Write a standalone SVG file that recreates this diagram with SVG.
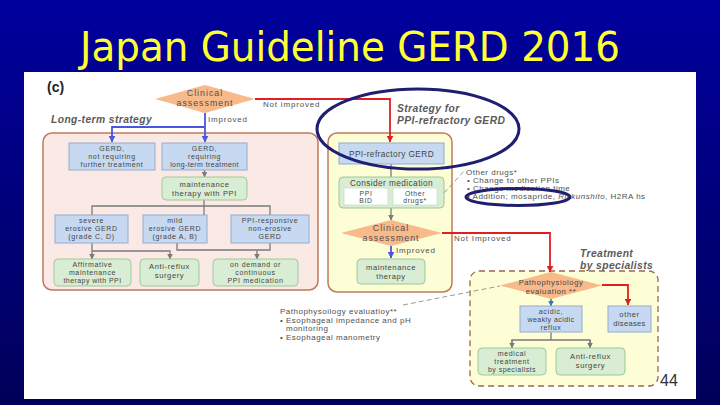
<svg xmlns="http://www.w3.org/2000/svg" width="720" height="405" viewBox="0 0 720 405">
<style>
.t{font-family:"Liberation Sans",Arial,sans-serif;font-size:7px;fill:#454545;text-anchor:middle;letter-spacing:0.65px}
.t2{font-family:"Liberation Sans",Arial,sans-serif;font-size:7.6px;fill:#454545;text-anchor:middle;letter-spacing:0.6px}
.tl{font-family:"Liberation Sans",Arial,sans-serif;font-size:8px;fill:#505050;letter-spacing:0.5px}
.lab{font-family:"Liberation Sans",Arial,sans-serif;font-size:8px;fill:#505050;letter-spacing:0.8px}
.it{font-family:"Liberation Sans",Arial,sans-serif;font-size:10.3px;font-style:italic;font-weight:bold;fill:#5a5a5a;letter-spacing:0.4px}
.dia{fill:#f8b98b}
.dt{font-family:"Liberation Sans",Arial,sans-serif;font-size:8.8px;fill:#505050;text-anchor:middle;letter-spacing:1px}
.blue{fill:#c6d9f1;stroke:#93acd0;stroke-width:1}
.green{fill:#d8edd3;stroke:#9dca96;stroke-width:1}
.wbox{fill:#ffffff;stroke:#c8e2c2;stroke-width:0.8}
.red{fill:none;stroke:#e02020;stroke-width:1.8}
.bl{fill:none;stroke:#4a55e0;stroke-width:1.8}
.gr{fill:none;stroke:#7a7a7a;stroke-width:1.3}
.dash{fill:none;stroke:#999;stroke-width:1;stroke-dasharray:5,3}
.ell{fill:none;stroke:#1f1f72;stroke-width:3}
</style>
<defs>
<linearGradient id="bg" x1="0" y1="0" x2="0" y2="1">
<stop offset="0" stop-color="#00009e"/>
<stop offset="1" stop-color="#00005a"/>
</linearGradient>
<marker id="mr" viewBox="0 0 6 6" refX="5.5" refY="3" markerWidth="7" markerHeight="7" orient="auto" markerUnits="userSpaceOnUse"><path d="M0,0 L6,3 L0,6 z" fill="#e02020"/></marker>
<marker id="mb" viewBox="0 0 6 6" refX="5.5" refY="3" markerWidth="7" markerHeight="7" orient="auto" markerUnits="userSpaceOnUse"><path d="M0,0 L6,3 L0,6 z" fill="#4a55e0"/></marker>
<marker id="mg" viewBox="0 0 6 6" refX="5.5" refY="3" markerWidth="6" markerHeight="6" orient="auto" markerUnits="userSpaceOnUse"><path d="M0,0 L6,3 L0,6 z" fill="#7a7a7a"/></marker>
<marker id="mb2" viewBox="0 0 6 6" refX="5.5" refY="3" markerWidth="6" markerHeight="6" orient="auto" markerUnits="userSpaceOnUse"><path d="M0,0 L6,3 L0,6 z" fill="#3377bb"/></marker>
</defs>

<rect x="0" y="0" width="720" height="405" fill="url(#bg)"/>
<text x="350" y="61" font-family="DejaVu Sans, sans-serif" font-size="40" fill="#ffff33" text-anchor="middle" textLength="540" lengthAdjust="spacingAndGlyphs">Japan Guideline GERD 2016</text>
<rect x="24" y="72" width="672" height="327" fill="#ffffff"/>

<text x="47" y="92" font-family="Liberation Sans, Arial, sans-serif" font-size="14" font-weight="bold" fill="#222">(c)</text>

<g id="panel-longterm">
<rect x="43" y="133" width="275" height="157" rx="9" fill="#fbe9e6" stroke="#bf7a5a" stroke-width="1.5"/>
<text class="it" x="51" y="123">Long-term strategy</text>
</g>
<g id="panel-refractory">
<rect x="328" y="133" width="124" height="159" rx="9" fill="#fdfdd6" stroke="#bf7a5a" stroke-width="1.5"/>
<text class="it" x="397" y="112">Strategy for</text>
<text class="it" x="397" y="124">PPI-refractory GERD</text>
</g>
<g id="panel-specialists">
<rect x="470" y="271" width="188" height="115" rx="9" fill="#fdfdd6" stroke="#9a6a4a" stroke-width="1.3" stroke-dasharray="6,4"/>
<text class="it" x="580" y="257">Treatment</text>
<text class="it" x="580" y="269">by specialists</text>
</g>

<g id="connectors">
<polyline class="red" points="255,99 390,99 390,142" marker-end="url(#mr)"/>
<text class="lab" x="263" y="107">Not improved</text>
<line class="bl" x1="205" y1="113" x2="205" y2="142" marker-end="url(#mb)"/>
<polyline class="bl" points="205,127 112,127 112,142" marker-end="url(#mb)"/>
<text class="lab" x="208" y="122">Improved</text>
<line class="gr" x1="204.5" y1="170" x2="204.5" y2="177" marker-end="url(#mg)"/>
<line class="gr" x1="204" y1="200" x2="204" y2="215"/>
<polyline class="gr" points="92,215 92,206 270,206 270,215"/>
<line class="gr" x1="92" y1="243" x2="92" y2="259" marker-end="url(#mg)"/>
<polyline class="gr" points="92,251 170,251 170,259" marker-end="url(#mg)"/>
<polyline class="gr" points="177,243 177,250 270,250 270,243"/>
<line class="gr" x1="257" y1="250" x2="257" y2="259" marker-end="url(#mg)"/>
<line class="gr" x1="391" y1="164" x2="391" y2="177"/>
<line class="gr" x1="391" y1="208" x2="391" y2="220" marker-end="url(#mg)"/>
<line class="bl" x1="391" y1="246" x2="391" y2="258" marker-end="url(#mb)"/>
<text class="lab" x="396" y="253">Improved</text>
<polyline class="red" points="442,233 550,233 550,272" marker-end="url(#mr)"/>
<text class="lab" x="454" y="241">Not Improved</text>
<polyline class="red" points="602,285 628,285 628,305" marker-end="url(#mr)"/>
<line x1="551" y1="299" x2="551" y2="306" stroke="#3377bb" stroke-width="1.5" marker-end="url(#mb2)"/>
<line class="gr" x1="551" y1="332" x2="551" y2="340"/>
<polyline class="gr" points="512,348 512,340 590,340 590,348"/>
<line class="gr" x1="512" y1="340" x2="512" y2="348" marker-end="url(#mg)"/>
<line class="gr" x1="590" y1="340" x2="590" y2="348" marker-end="url(#mg)"/>
<line class="dash" x1="444" y1="193" x2="466" y2="169"/>
<line class="dash" x1="403" y1="305" x2="500" y2="286"/>
</g>

<g id="assess1">
<polygon class="dia" points="155,99 205,85 255,99 205,113"/>
<text class="dt" x="205" y="96">Clinical</text>
<text class="dt" x="205" y="106">assessment</text>
</g>
<g id="gerd-nr">
<rect class="blue" x="69" y="143" width="86" height="27"/>
<text class="t" x="112" y="151">GERD,</text>
<text class="t" x="112" y="159">not requiring</text>
<text class="t" x="112" y="167">further treatment</text>
</g>
<g id="gerd-lt">
<rect class="blue" x="162" y="143" width="85" height="27"/>
<text class="t" x="204.5" y="151">GERD,</text>
<text class="t" x="204.5" y="159">requiring</text>
<text class="t" x="204.5" y="167" style="letter-spacing:0.4px">long-term treatment</text>
</g>
<g id="maint-ppi">
<rect class="green" x="162" y="177" width="85" height="23" rx="4"/>
<text class="t2" x="204.5" y="186.5">maintenance</text>
<text class="t2" x="204.5" y="195.5">therapy with PPI</text>
</g>
<g id="severe">
<rect class="blue" x="55" y="215" width="73" height="28"/>
<text class="t" x="91.5" y="223">severe</text>
<text class="t" x="91.5" y="231">erosive GERD</text>
<text class="t" x="91.5" y="239">(grade C, D)</text>
</g>
<g id="mild">
<rect class="blue" x="143" y="215" width="64" height="28"/>
<text class="t" x="175" y="223">mild</text>
<text class="t" x="175" y="231">erosive GERD</text>
<text class="t" x="175" y="239">(grade A, B)</text>
</g>
<g id="ppi-responsive">
<rect class="blue" x="231" y="215" width="78" height="28"/>
<text class="t" x="270" y="223">PPI-responsive</text>
<text class="t" x="270" y="231">non-erosive</text>
<text class="t" x="270" y="239">GERD</text>
</g>
<g id="affirmative">
<rect class="green" x="54" y="259" width="77" height="27" rx="4"/>
<text class="t" x="92.5" y="267">Affirmative</text>
<text class="t" x="92.5" y="275">maintenance</text>
<text class="t" x="92.5" y="283" style="letter-spacing:0.45px">therapy with PPI</text>
</g>
<g id="antireflux1">
<rect class="green" x="140" y="259" width="59" height="27" rx="4"/>
<text class="t2" x="169.5" y="268.5">Anti-reflux</text>
<text class="t2" x="169.5" y="277.5">surgery</text>
</g>
<g id="ondemand">
<rect class="green" x="213" y="259" width="85" height="27" rx="4"/>
<text class="t" x="255.5" y="267">on demand or</text>
<text class="t" x="255.5" y="275">continuous</text>
<text class="t" x="255.5" y="283">PPI medication</text>
</g>

<g id="ppi-refractory">
<rect class="blue" x="339" y="143" width="105" height="21"/>
<text class="t2" x="391.5" y="156.5" style="font-size:8.3px;letter-spacing:0.4px">PPI-refractory GERD</text>
</g>
<g id="consider">
<rect class="green" x="339" y="177" width="105" height="31" rx="4"/>
<text class="t2" x="391.5" y="186" style="font-size:8.3px;letter-spacing:0.4px">Consider medication</text>
<rect class="wbox" x="344" y="188" width="44" height="17"/>
<rect class="wbox" x="393" y="188" width="44" height="17"/>
<text class="t" x="366" y="195.5" style="font-size:6.8px">PPI</text>
<text class="t" x="366" y="203.3" style="font-size:6.8px">BID</text>
<text class="t" x="415" y="195.5" style="font-size:6.8px">Other</text>
<text class="t" x="415" y="203.3" style="font-size:6.8px">drugs*</text>
</g>
<g id="otherdrugs-note">
<text class="tl" x="466" y="175">Other drugs*</text>
<text class="tl" x="467" y="183">• Change to other PPIs</text>
<text class="tl" x="467" y="191">• Change medication time</text>
<text class="tl" x="467" y="199">• Addition; mosapride, <tspan font-style="italic">Rikkunshito</tspan>,  H2RA hs</text>
</g>
<g id="assess2">
<polygon class="dia" points="341,233 391,220 442,233 391,246"/>
<text class="dt" x="391" y="231">Clinical</text>
<text class="dt" x="391" y="241">assessment</text>
</g>
<g id="maint2">
<rect class="green" x="357" y="259" width="68" height="25" rx="4"/>
<text class="t2" x="391" y="269.5">maintenance</text>
<text class="t2" x="391" y="278.5">therapy</text>
</g>

<g id="patho">
<polygon class="dia" points="500,285.5 551,272 602,285.5 551,299"/>
<text class="t2" x="551" y="284.5">Pathophysiology</text>
<text class="t2" x="551" y="293.5">evaluation **</text>
</g>
<g id="patho-note">
<text class="tl" x="280" y="314">Pathophysoilogy evaluatioy**</text>
<text class="tl" x="280" y="323">• Esophageal impedance and pH</text>
<text class="tl" x="286" y="331">monitoring</text>
<text class="tl" x="280" y="340">• Esophageal manometry</text>
</g>
<g id="acidic">
<rect class="blue" x="520" y="306" width="62" height="26"/>
<text class="t" x="551" y="313.5">acidic,</text>
<text class="t" x="551" y="321.5" style="letter-spacing:0.45px">weakly acidic</text>
<text class="t" x="551" y="329.5">reflux</text>
</g>
<g id="other-diseases">
<rect class="blue" x="608" y="306" width="43" height="26"/>
<text class="t2" x="629.5" y="316.5">other</text>
<text class="t2" x="629.5" y="325.5" style="letter-spacing:0.3px">diseases</text>
</g>
<g id="medical-treatment">
<rect class="green" x="478" y="348" width="68" height="27" rx="4"/>
<text class="t" x="512" y="356">medical</text>
<text class="t" x="512" y="364">treatment</text>
<text class="t" x="512" y="372" style="letter-spacing:0.45px">by specialists</text>
</g>
<g id="antireflux2">
<rect class="green" x="556" y="348" width="69" height="27" rx="4"/>
<text class="t2" x="590.5" y="358.5">Anti-reflux</text>
<text class="t2" x="590.5" y="367.5">surgery</text>
</g>

<g id="annotations">
<ellipse class="ell" cx="418" cy="129" rx="101" ry="40"/>
<ellipse class="ell" cx="518" cy="197" rx="52" ry="8.5"/>
</g>

<text x="660" y="386" font-family="Liberation Sans, Arial, sans-serif" font-size="16" fill="#333">44</text>
</svg>
